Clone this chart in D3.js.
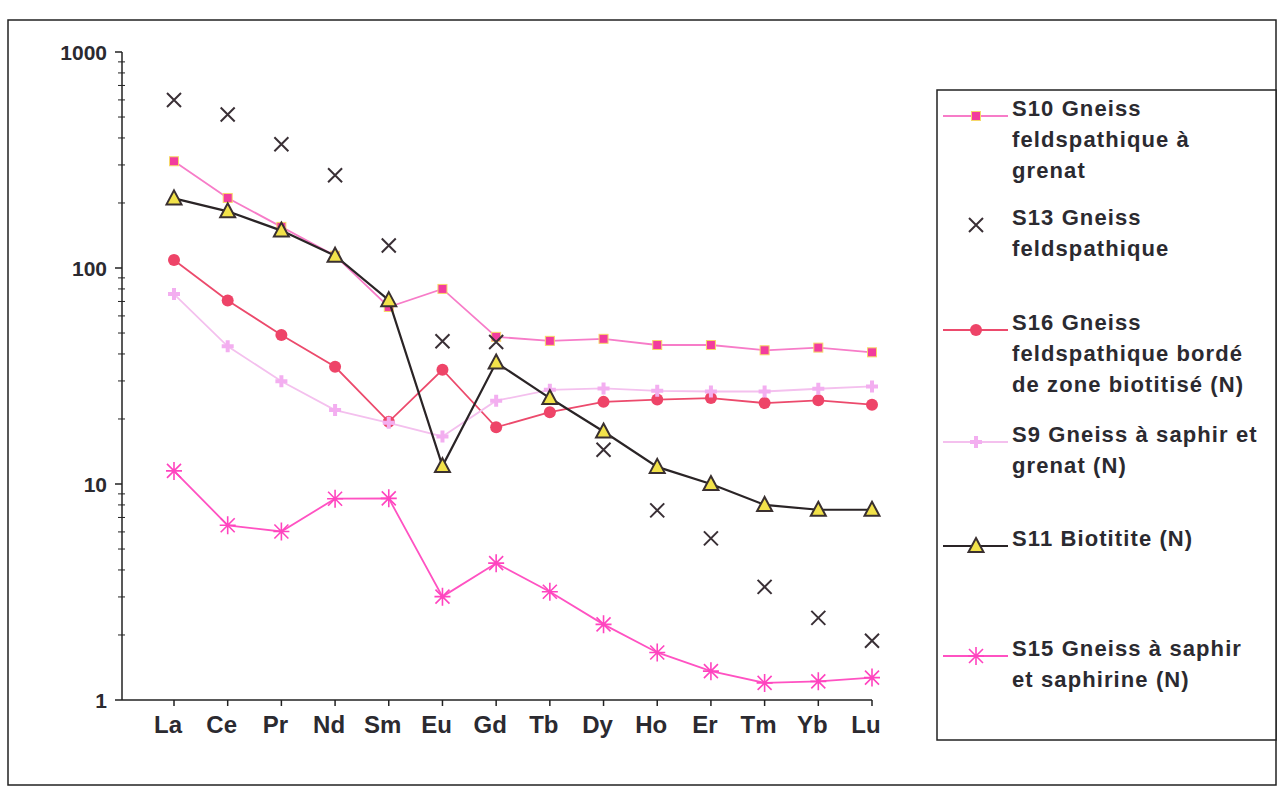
<!DOCTYPE html>
<html>
<head>
<meta charset="utf-8">
<script src="https://cdn.jsdelivr.net/npm/d3@7"></script>
<style>
  body { margin: 0; background: #fff; }
  text { font-family: "Liberation Sans", Arial, sans-serif; font-weight: bold; fill: #2b2a30; }
</style>
</head>
<body>
<svg id="chart" width="1285" height="799"></svg>
<script>
// rare earth elements (x categories)
const elements = ["La", "Ce", "Pr", "Nd", "Sm", "Eu", "Gd", "Tb", "Dy", "Ho", "Er", "Tm", "Yb", "Lu"];

// normalised values
const s10 = [312, 211, 155, 114, 66, 80, 48, 46, 47, 44, 44, 41.6, 42.8, 40.7];
const s13 = [600, 514, 374, 269, 127, 45.8, 45.4, null, 14.4, 7.55, 5.6, 3.34, 2.4, 1.88];
const s16 = [109, 70.8, 49, 34.9, 19.4, 33.8, 18.3, 21.5, 24, 24.6, 25, 23.7, 24.4, 23.3];
const s9  = [75.7, 43.4, 29.9, 22, 19.2, 16.6, 24.3, 27.3, 27.7, 27, 26.8, 26.8, 27.6, 28.3];
const s11 = [210, 183, 149, 114, 71, 12.1, 36.5, 25, 17.5, 12.0, 10.0, 8.0, 7.6, 7.6];
const s15 = [11.5, 6.44, 6.03, 8.55, 8.58, 3.01, 4.30, 3.17, 2.24, 1.66, 1.36, 1.20, 1.22, 1.27];

const yTicks = [1, 10, 100, 1000];

// legend labels, one entry per line
const labelS10 = ["S10 Gneiss", "feldspathique à", "grenat"];
const labelS13 = ["S13 Gneiss", "feldspathique"];
const labelS16 = ["S16 Gneiss", "feldspathique bordé", "de zone biotitisé (N)"];
const labelS9  = ["S9 Gneiss à saphir et", "grenat (N)"];
const labelS11 = ["S11 Biotitite (N)"];
const labelS15 = ["S15 Gneiss à saphir", "et saphirine (N)"];

const series = [
    {values: s10, label: labelS10, line: "#f77cc8", marker: "square",   color: "#f23c9e", legendY: 116},
    {values: s13, label: labelS13, line: null,      marker: "x",        color: "#3a3036", legendY: 225},
    {values: s16, label: labelS16, line: "#ec4a6c", marker: "circle",   color: "#ee4468", legendY: 330},
    {values: s9,  label: labelS9,  line: "#f4c0ee", marker: "plus",     color: "#f3aef0", legendY: 442},
    {values: s11, label: labelS11, line: "#2a2426", marker: "triangle", color: "#f2e24a", legendY: 546},
    {values: s15, label: labelS15, line: "#ff52c2", marker: "asterisk", color: "#ff44bf", legendY: 656}
];

const svg = d3.select("#chart");

// outer chart frame
svg.append("rect")
    .attr("x", 8).attr("y", 20)
    .attr("width", 1268).attr("height", 765)
    .attr("fill", "none")
    .attr("stroke", "#222")
    .attr("stroke-width", 1.5);

const x = d3.scalePoint()
    .domain(elements)
    .range([174, 872]);

const y = d3.scaleLog()
    .domain([1, 1000])
    .range([700, 52]);

const axisX0 = 122;

// y axis
const yAxis = svg.append("g");
yAxis.append("line")
    .attr("x1", axisX0).attr("x2", axisX0)
    .attr("y1", y(1000)).attr("y2", y(1))
    .attr("stroke", "#222").attr("stroke-width", 1.5);

const minor = [];
for (let d = 1; d < 1000; d *= 10)
    for (let k = 2; k <= 9; k++) minor.push(d * k);

yAxis.selectAll(".minor")
    .data(minor)
    .enter()
    .append("line")
    .attr("x1", axisX0 - 4).attr("x2", axisX0 + 3)
    .attr("y1", d => y(d)).attr("y2", d => y(d))
    .attr("stroke", "#222").attr("stroke-width", 1);

yAxis.selectAll(".major")
    .data(yTicks)
    .enter()
    .append("line")
    .attr("x1", axisX0 - 7).attr("x2", axisX0)
    .attr("y1", d => y(d)).attr("y2", d => y(d))
    .attr("stroke", "#222").attr("stroke-width", 1.5);

yAxis.selectAll("text")
    .data(yTicks)
    .enter()
    .append("text")
    .attr("x", axisX0 - 15)
    .attr("y", d => y(d))
    .attr("dy", "0.36em")
    .attr("text-anchor", "end")
    .style("font-size", "21px")
    .text(d => d);

// x axis
const xAxis = svg.append("g");
xAxis.append("line")
    .attr("x1", axisX0).attr("x2", x("Lu"))
    .attr("y1", y(1)).attr("y2", y(1))
    .attr("stroke", "#222").attr("stroke-width", 1.5);

xAxis.selectAll(".tick")
    .data(elements)
    .enter()
    .append("line")
    .attr("x1", d => x(d)).attr("x2", d => x(d))
    .attr("y1", y(1)).attr("y2", y(1) + 6)
    .attr("stroke", "#222").attr("stroke-width", 1.5);

xAxis.selectAll("text")
    .data(elements)
    .enter()
    .append("text")
    .attr("x", d => x(d) - 6)
    .attr("y", y(1) + 33)
    .attr("text-anchor", "middle")
    .style("font-size", "24px")
    .text(d => d);

// marker drawing
function drawMarker(g, type, color, cx, cy) {
    if (type === "square") {
        g.append("rect")
            .attr("x", cx - 4.5).attr("y", cy - 4.5)
            .attr("width", 9).attr("height", 9)
            .attr("fill", color)
            .attr("stroke", "#f6d86a").attr("stroke-width", 1);
    } else if (type === "x") {
        g.append("path")
            .attr("d", `M${cx - 7},${cy - 7}L${cx + 7},${cy + 7}M${cx - 7},${cy + 7}L${cx + 7},${cy - 7}`)
            .attr("stroke", color).attr("stroke-width", 2).attr("fill", "none");
    } else if (type === "circle") {
        g.append("circle")
            .attr("cx", cx).attr("cy", cy).attr("r", 6)
            .attr("fill", color);
    } else if (type === "plus") {
        g.append("path")
            .attr("d", d3.symbol(d3.symbolCross, 80)())
            .attr("transform", `translate(${cx},${cy})`)
            .attr("fill", color);
    } else if (type === "triangle") {
        g.append("path")
            .attr("d", `M${cx},${cy - 8}L${cx + 7.5},${cy + 6}L${cx - 7.5},${cy + 6}Z`)
            .attr("fill", color)
            .attr("stroke", "#3a3030").attr("stroke-width", 2);
    } else if (type === "asterisk") {
        g.append("path")
            .attr("d", `M${cx - 7},${cy - 7}L${cx + 7},${cy + 7}M${cx - 7},${cy + 7}L${cx + 7},${cy - 7}M${cx},${cy - 9}L${cx},${cy + 9}M${cx - 8},${cy}L${cx + 8},${cy}`)
            .attr("stroke", color).attr("stroke-width", 1.6).attr("fill", "none");
    }
}

const plot = svg.append("g").attr("class", "plot");

const line = d3.line()
    .defined(d => d.v != null)
    .x(d => x(d.e))
    .y(d => y(d.v));

series.forEach(s => {
    const pts = elements.map((e, i) => ({e: e, v: s.values[i]}));
    const g = plot.append("g");
    if (s.line) {
        g.append("path")
            .datum(pts)
            .attr("d", line)
            .attr("fill", "none")
            .attr("stroke", s.line)
            .attr("stroke-width", s.marker === "triangle" ? 2.2 : 1.8);
    }
    pts.filter(p => p.v != null)
        .forEach(p => drawMarker(g, s.marker, s.color, x(p.e), y(p.v)));
});

// legend
const legend = svg.append("g").attr("class", "legend");
legend.append("rect")
    .attr("x", 937).attr("y", 90)
    .attr("width", 339).attr("height", 650)
    .attr("fill", "#fff")
    .attr("stroke", "#222").attr("stroke-width", 1.5);

series.forEach(s => {
    const ly = s.legendY;
    if (s.line) {
        legend.append("line")
            .attr("x1", 943).attr("x2", 1008)
            .attr("y1", ly).attr("y2", ly)
            .attr("stroke", s.line)
            .attr("stroke-width", s.marker === "triangle" ? 2.2 : 1.8);
    }
    drawMarker(legend, s.marker, s.color, 976, ly);

    const t = legend.append("text")
        .attr("x", 1012)
        .attr("y", ly)
        .attr("dy", "0.36em")
        .style("font-size", "22px")
        .style("letter-spacing", "1.1px");
    t.selectAll("tspan")
        .data(s.label)
        .enter()
        .append("tspan")
        .attr("x", 1012)
        .attr("dy", (d, i) => i === 0 ? 0 : 31)
        .text(d => d);
});
</script>
</body>
</html>
